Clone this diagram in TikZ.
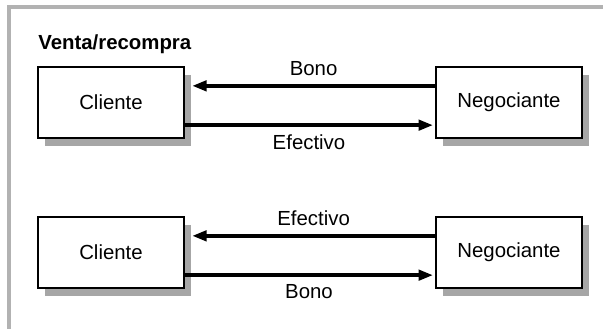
\documentclass[tikz,border=0pt]{standalone}
\usepackage{fontspec}
\setmainfont{Liberation Sans}
\usetikzlibrary{arrows.meta, shadows}

\begin{document}
\begin{tikzpicture}[
  x=0.025cm, y=-0.025cm,
  font=\fontsize{14.5}{17}\selectfont,
  box/.style={draw, line width=1.5pt, fill=white, minimum width=3.65cm,
              minimum height=1.78cm, align=center,
              drop shadow={shadow xshift=0.18cm, shadow yshift=-0.2cm,
                           fill=black!35, opacity=1}},
  arr/.style={-{Triangle[length=0.36cm, width=0.26cm]}, line width=2.4pt},
  lbl/.style={inner sep=0.2cm},
  frame/.style={draw=black!30, line width=2.2pt}
]
\useasboundingbox (0,0) rectangle (603,329);
\draw[frame] (603,7) -| (9,329);

\node[anchor=base west, inner sep=0pt, font=\fontsize{14.5}{17}\selectfont\bfseries] (title) at (38,49) {Venta/recompra};

% venta
\node[box] (cliA) at (111,102.5) {Cliente};
\node[box] (negA) at (509,102.5) {Negociante};
\draw[arr] ([yshift=-0.5cm]negA.north west) -- node[lbl, above]{Bono} ([shift={(0.18cm,-0.5cm)}]cliA.north east);
\draw[arr] ([yshift=0.35cm]cliA.south east) -- node[lbl, below]{Efectivo} ([shift={(-0.05cm,0.35cm)}]negA.south west);

% recompra
\node[box] (cliB) at (111,252.5) {Cliente};
\node[box] (negB) at (509,252.5) {Negociante};
\draw[arr] ([yshift=-0.5cm]negB.north west) -- node[lbl, above]{Efectivo} ([shift={(0.18cm,-0.5cm)}]cliB.north east);
\draw[arr] ([yshift=0.35cm]cliB.south east) -- node[lbl, below]{Bono} ([shift={(-0.05cm,0.35cm)}]negB.south west);
\end{tikzpicture}
\end{document}
